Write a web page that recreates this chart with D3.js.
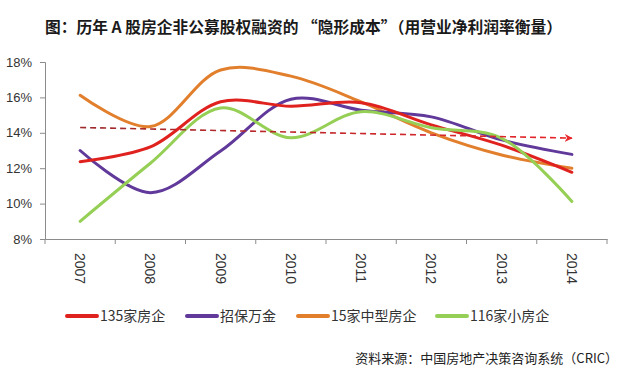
<!DOCTYPE html>
<html><head><meta charset="utf-8">
<script src="https://cdn.jsdelivr.net/npm/d3@7"></script>
<style>
body{margin:0;background:#fff;}
svg{display:block;font-family:"Noto Sans CJK SC","Noto Sans",sans-serif;}
</style></head>
<body>
<svg id="c" width="634" height="379"></svg>
<script>
const years = ["2007","2008","2009","2010","2011","2012","2013","2014"];
const seriesNames = ["135家房企","招保万金","15家中型房企","116家小房企"];
const seriesColors = ["#e0221f","#60399a","#e27f2d","#95cf55"];
const v135 = [12.37, 13.2, 15.75, 15.5, 15.7, 14.45, 13.3, 11.77];
const vZBWJ = [13.0, 10.62, 12.97, 15.9, 15.28, 14.9, 13.6, 12.78];
const v15 = [16.12, 14.35, 17.55, 17.2, 15.75, 14.0, 12.75, 12.0];
const v116 = [9.0, 12.28, 15.4, 13.72, 15.19, 14.29, 13.69, 10.12];
const trend = [14.3, 13.7];
const yTicks = [8, 10, 12, 14, 16, 18];
const title = "图：历年 A 股房企非公募股权融资的 “隐形成本”（用营业净利润率衡量）";
const source = "资料来源：中国房地产决策咨询系统（CRIC）";

const svg = d3.select("#c");
const x = d3.scaleBand().domain(years).range([45, 607]);
const y = d3.scaleLinear().domain([8, 18]).range([239, 62]);
const cx = d => x(d) + x.bandwidth() / 2;

svg.append("text").attr("x", 45).attr("y", 33)
  .attr("font-size", 15.75).attr("font-weight", "bold").attr("fill", "#1a1a1a")
  .text(title);

// Y axis
const ya = svg.append("g").attr("transform", "translate(45,0)")
  .call(d3.axisLeft(y).tickValues(yTicks).tickFormat(d => d + "%").tickSize(5).tickPadding(8));
ya.select(".domain").attr("stroke", "#8c8c8c");
ya.selectAll(".tick line").attr("stroke", "#8c8c8c");
ya.selectAll("text").attr("font-size", 13).attr("fill", "#333").attr("font-family", "Liberation Sans, Arial, sans-serif");

// X axis
const xa = svg.append("g").attr("transform", "translate(0,239)")
  .call(d3.axisBottom(x).tickSize(0).tickSizeOuter(0));
xa.select(".domain").attr("stroke", "#8c8c8c");
xa.selectAll(".tick line").remove();
xa.selectAll(".tick text")
  .attr("transform", "rotate(90)").attr("text-anchor", "start")
  .attr("x", 14).attr("y", 0).attr("dy", "0.35em")
  .attr("font-size", 14).attr("fill", "#333").attr("font-family", "Liberation Sans, Arial, sans-serif");
// band boundary ticks
const bounds = years.map(d => x(d)).concat([x.range()[1]]);
svg.append("g").selectAll("line").data(bounds).join("line")
  .attr("x1", d => d).attr("x2", d => d).attr("y1", 239).attr("y2", 244)
  .attr("stroke", "#8c8c8c");

// series
const allSeries = [v135, vZBWJ, v15, v116];
const line = d3.line().x((d, i) => cx(years[i])).y(d => y(d)).curve(d3.curveCatmullRom.alpha(0.5));
const drawOrder = [2, 1, 0, 3];
const defs = svg.append("defs");
const grad = defs.append("linearGradient").attr("id", "tg").attr("gradientUnits", "userSpaceOnUse")
  .attr("x1", cx(years[0])).attr("x2", cx(years[7])).attr("y1", 0).attr("y2", 0);
grad.append("stop").attr("offset", "0").attr("stop-color", "#9e2a2b");
grad.append("stop").attr("offset", "1").attr("stop-color", "#e8262b");
defs.append("marker").attr("id", "ar").attr("viewBox", "0 0 10 10").attr("refX", 9).attr("refY", 5)
  .attr("markerWidth", 5).attr("markerHeight", 5).attr("orient", "auto").attr("markerUnits", "strokeWidth")
  .append("path").attr("d", "M0,0 L10,5 L0,10 L3,5 Z").attr("fill", "#e8262b");

svg.append("g").selectAll("path").data(drawOrder).join("path")
  .attr("d", i => line(allSeries[i]))
  .attr("fill", "none").attr("stroke", i => seriesColors[i])
  .attr("stroke-width", 3).attr("stroke-linecap", "round");

svg.append("line")
  .attr("x1", cx(years[0])).attr("y1", y(trend[0]))
  .attr("x2", cx(years[7])).attr("y2", y(trend[1]))
  .attr("stroke", "url(#tg)").attr("stroke-width", 1.6)
  .attr("stroke-dasharray", "6,4").attr("marker-end", "url(#ar)");

// legend
const legX = [67, 187, 298, 437];
const lg = svg.append("g");
seriesNames.forEach((n, i) => {
  lg.append("line").attr("x1", legX[i]).attr("x2", legX[i] + 30).attr("y1", 316).attr("y2", 316)
    .attr("stroke", seriesColors[i]).attr("stroke-width", 4).attr("stroke-linecap", "round");
  lg.append("text").attr("x", legX[i] + 33).attr("y", 316).attr("dy", "0.36em")
    .attr("font-size", 14).attr("fill", "#333").text(n);
});

svg.append("text").attr("x", 618).attr("y", 363).attr("text-anchor", "end")
  .attr("font-size", 13).attr("fill", "#222").text(source);
</script>
</body></html>
